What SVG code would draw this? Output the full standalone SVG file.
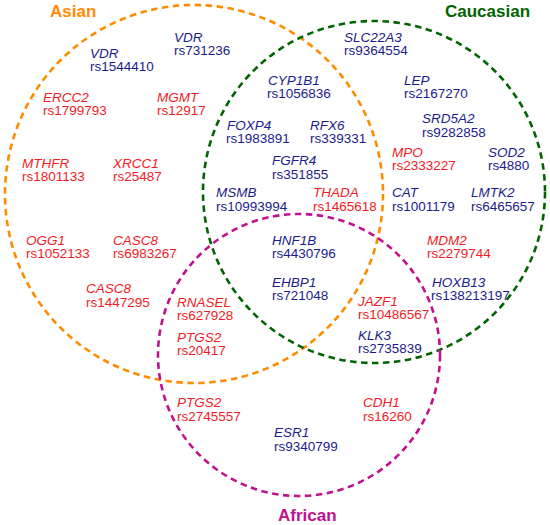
<svg xmlns="http://www.w3.org/2000/svg" width="550" height="525" viewBox="0 0 550 525">
<style>
text{font-family:"Liberation Sans",Arial,sans-serif;font-size:13.5px}
.g{font-style:italic}
.b{fill:#1c1c8c}
.r{fill:#f21c24}
.set{fill:none;stroke-width:2.6;stroke-dasharray:6.5,4.5}
.t{font-size:17px;font-weight:bold}
</style>
<rect width="550" height="525" fill="#fff"/>
<g id="sets">
<circle id="asian" class="set" cx="194" cy="194" r="189" stroke="#ff8c00"/>
<circle id="caucasian" class="set" cx="374" cy="192" r="171" stroke="#006400"/>
<circle id="african" class="set" cx="299" cy="355" r="141" stroke="#c0128c"/>
</g>
<g id="titles">
<text class="t" x="50" y="17" fill="#ff8c00">Asian</text>
<text class="t" x="445" y="17" fill="#006400">Caucasian</text>
<text class="t" x="278" y="521" fill="#c0128c">African</text>
</g>
<g id="vdr1" class="b"><text class="g" x="90" y="58">VDR</text><text x="90" y="71">rs1544410</text></g>
<g id="vdr2" class="b"><text class="g" x="174" y="42">VDR</text><text x="174" y="55">rs731236</text></g>
<g id="ercc2" class="r"><text class="g" x="43" y="102">ERCC2</text><text x="43" y="115">rs1799793</text></g>
<g id="mgmt" class="r"><text class="g" x="157" y="102">MGMT</text><text x="157" y="115">rs12917</text></g>
<g id="mthfr" class="r"><text class="g" x="22" y="168">MTHFR</text><text x="22" y="181">rs1801133</text></g>
<g id="xrcc1" class="r"><text class="g" x="113" y="168">XRCC1</text><text x="113" y="181">rs25487</text></g>
<g id="ogg1" class="r"><text class="g" x="26" y="245">OGG1</text><text x="26" y="258">rs1052133</text></g>
<g id="casc8a" class="r"><text class="g" x="113" y="245">CASC8</text><text x="113" y="258">rs6983267</text></g>
<g id="casc8b" class="r"><text class="g" x="86" y="293">CASC8</text><text x="86" y="307">rs1447295</text></g>
<g id="slc22a3" class="b"><text class="g" x="344" y="42">SLC22A3</text><text x="344" y="55">rs9364554</text></g>
<g id="cyp1b1" class="b"><text class="g" x="268" y="85">CYP1B1</text><text x="267" y="98">rs1056836</text></g>
<g id="lep" class="b"><text class="g" x="404" y="85">LEP</text><text x="404" y="98">rs2167270</text></g>
<g id="foxp4" class="b"><text class="g" x="227" y="130">FOXP4</text><text x="226" y="143">rs1983891</text></g>
<g id="rfx6" class="b"><text class="g" x="310" y="130">RFX6</text><text x="310" y="143">rs339331</text></g>
<g id="srd5a2" class="b"><text class="g" x="422" y="123">SRD5A2</text><text x="422" y="137">rs9282858</text></g>
<g id="mpo" class="r"><text class="g" x="392" y="157">MPO</text><text x="392" y="170">rs2333227</text></g>
<g id="sod2" class="b"><text class="g" x="488" y="157">SOD2</text><text x="488" y="170">rs4880</text></g>
<g id="fgfr4" class="b"><text class="g" x="272" y="165">FGFR4</text><text x="272" y="179">rs351855</text></g>
<g id="msmb" class="b"><text class="g" x="216" y="197">MSMB</text><text x="216" y="211">rs10993994</text></g>
<g id="thada" class="r"><text class="g" x="313" y="197">THADA</text><text x="313" y="211">rs1465618</text></g>
<g id="cat" class="b"><text class="g" x="392" y="197">CAT</text><text x="392" y="211">rs1001179</text></g>
<g id="lmtk2" class="b"><text class="g" x="471" y="197">LMTK2</text><text x="471" y="211">rs6465657</text></g>
<g id="hnf1b" class="b"><text class="g" x="272" y="245">HNF1B</text><text x="272" y="258">rs4430796</text></g>
<g id="mdm2" class="r"><text class="g" x="427" y="245">MDM2</text><text x="427" y="258">rs2279744</text></g>
<g id="ehbp1" class="b"><text class="g" x="272" y="287">EHBP1</text><text x="272" y="300">rs721048</text></g>
<g id="hoxb13" class="b"><text class="g" x="432" y="287">HOXB13</text><text x="431" y="300">rs138213197</text></g>
<g id="rnasel" class="r"><text class="g" x="177" y="307">RNASEL</text><text x="177" y="320">rs627928</text></g>
<g id="jazf1" class="r"><text class="g" x="358" y="306">JAZF1</text><text x="358" y="319">rs10486567</text></g>
<g id="ptgs2a" class="r"><text class="g" x="177" y="342">PTGS2</text><text x="177" y="355">rs20417</text></g>
<g id="klk3" class="b"><text class="g" x="358" y="340">KLK3</text><text x="358" y="353">rs2735839</text></g>
<g id="ptgs2b" class="r"><text class="g" x="177" y="407">PTGS2</text><text x="177" y="421">rs2745557</text></g>
<g id="cdh1" class="r"><text class="g" x="363" y="407">CDH1</text><text x="363" y="421">rs16260</text></g>
<g id="esr1" class="b"><text class="g" x="274" y="437">ESR1</text><text x="274" y="451">rs9340799</text></g>
<g id="connectors"/>
</svg>
